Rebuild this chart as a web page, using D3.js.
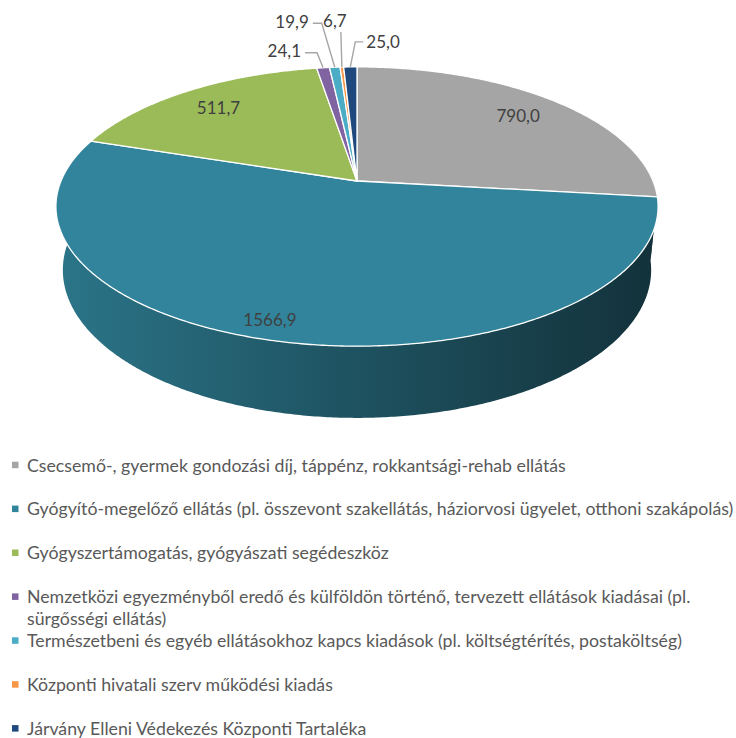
<!DOCTYPE html>
<html lang="hu">
<head>
<meta charset="utf-8">
<script src="https://cdn.jsdelivr.net/npm/d3@7"></script>
<style>
  html, body { margin: 0; padding: 0; background: #ffffff; }
  svg { display: block; font-family: Lato, "Open Sans", "DejaVu Sans", sans-serif; }
</style>
</head>
<body>
<svg id="chart" width="736" height="738"></svg>
<script>
// Kiadási tételek (milliárd Ft)
const categories = [
  "Csecsemő-, gyermek gondozási díj, táppénz, rokkantsági-rehab ellátás",
  "Gyógyító-megelőző ellátás (pl. összevont szakellátás, háziorvosi ügyelet, otthoni szakápolás)",
  "Gyógyszertámogatás, gyógyászati segédeszköz",
  "Nemzetközi egyezményből eredő és külföldön történő, tervezett ellátások kiadásai (pl. sürgősségi ellátás)",
  "Természetbeni és egyéb ellátásokhoz kapcs kiadások (pl. költségtérítés, postaköltség)",
  "Központi hivatali szerv működési kiadás",
  "Járvány Elleni Védekezés Központi Tartaléka"
];
const values = [790.0, 1566.9, 511.7, 24.1, 19.9, 6.7, 25.0];
const colors = ["#a5a5a5", "#31849b", "#9bbb59", "#8064a2", "#4bacc6", "#f79646", "#1f497d"];

// Külső címkék vezetővonalai: könyökpont eltolása a cikk pereméhez képest
const callouts = [
  null, null, null,
  { ex: -6,  ey: -15, hx: -12, side: "end" },
  { ex: -13, ey: -44, hx: -9,  side: "end" },
  { ex: -1,  ey: -35, hx: 0,   side: "top" },
  { ex: 5,   ey: -25, hx: 8,   side: "start" }
];

const fmt = v => d3.format(".1f")(v).replace(".", ",");

const svg = d3.select("#chart");
const defs = svg.append("defs");

// Perspektivikus vetítés: kör alakú tortalap, megdöntött kamerával
const cam = { cx: 357, cy: 181, S: 296, D: 4.87, sinP: 0.456, H: 0.243 };
cam.cosP = Math.sqrt(1 - cam.sinP * cam.sinP);
function project(X, Y, Z) {
  const yc = Y * cam.cosP - Z * cam.sinP;
  const d = cam.D - (Z * cam.cosP + Y * cam.sinP);
  return [cam.cx + cam.S * cam.D * X / d, cam.cy - cam.S * cam.D * yc / d];
}
const polar = (a, k, Y) => project(k * Math.sin(a), Y, -k * Math.cos(a));

const pie = d3.pie().sort(null).value(d => d);
const arcs = pie(values);

function arcPoints(a0, a1, k, Y) {
  const n = Math.max(2, Math.ceil((a1 - a0) / (Math.PI / 360)));
  return d3.range(n + 1).map(i => polar(a0 + (a1 - a0) * i / n, k, Y));
}
const closed = d3.line().curve(d3.curveLinearClosed);

// Oldalfal: csak az elülső félkör látszik
const frontA0 = Math.PI / 2 - 0.15, frontA1 = 3 * Math.PI / 2 + 0.15;
const wallG = svg.append("g");
arcs.forEach((p, i) => {
  const a0 = Math.max(p.startAngle, frontA0), a1 = Math.min(p.endAngle, frontA1);
  if (a1 <= a0) return;
  const gid = "wall" + i;
  const grad = defs.append("linearGradient").attr("id", gid)
    .attr("gradientUnits", "userSpaceOnUse")
    .attr("x1", cam.cx - cam.S).attr("x2", cam.cx + cam.S).attr("y1", 0).attr("y2", 0);
  const shade = t => d3.interpolateRgb(colors[i], "#000000")(t);
  grad.append("stop").attr("offset", 0).attr("stop-color", shade(0.12));
  grad.append("stop").attr("offset", 0.5).attr("stop-color", shade(0.38));
  grad.append("stop").attr("offset", 1).attr("stop-color", shade(0.62));
  const pts = arcPoints(a0, a1, 1, 0).concat(arcPoints(a0, a1, 1, -cam.H).reverse());
  wallG.append("path").attr("d", closed(pts)).attr("fill", `url(#${gid})`);
});

// Tortalap cikkei
const topG = svg.append("g");
arcs.forEach((p, i) => {
  const pts = [project(0, 0, 0)].concat(arcPoints(p.startAngle, p.endAngle, 1, 0));
  topG.append("path").attr("d", closed(pts))
    .attr("fill", colors[i])
    .attr("stroke", "#ffffff").attr("stroke-width", 1.3).attr("stroke-linejoin", "round");
});

// Adatcímkék: a belső címkék az elülső oldalon kijjebb és a fal felé tolódnak
const labelG = svg.append("g").attr("font-size", 17).attr("fill", "#404040");
arcs.forEach((p, i) => {
  const mid = (p.startAngle + p.endAngle) / 2;
  const c = callouts[i];
  if (!c) {
    const front = Math.max(0, -Math.cos(mid));
    const k = 0.8 + 0.1 * front;
    const [x, y] = polar(mid + 0.065 * front, k, 0);
    labelG.append("text").attr("x", x).attr("y", y)
      .attr("text-anchor", "middle").attr("dominant-baseline", "central")
      .text(fmt(values[i]));
    return;
  }
  const [ax, ay] = polar(mid, 1, 0);
  const elbow = [ax + c.ex, ay + c.ey];
  const end = [elbow[0] + c.hx, elbow[1]];
  labelG.append("path")
    .attr("d", d3.line()([[ax, ay], elbow, end]))
    .attr("fill", "none").attr("stroke", "#a6a6a6").attr("stroke-width", 1.4);
  const t = labelG.append("text").text(fmt(values[i])).attr("dominant-baseline", "central");
  if (c.side === "end") t.attr("x", end[0] - 4).attr("y", end[1] - 2).attr("text-anchor", "end");
  else if (c.side === "start") t.attr("x", end[0] + 3).attr("y", end[1]).attr("text-anchor", "start");
  else t.attr("x", end[0] - 6).attr("y", end[1] - 12).attr("text-anchor", "middle");
});

// Jelmagyarázat
const legend = { x: 27, y0: 465, step: 43.9, lineH: 22, width: 707 };
const legendG = svg.append("g").attr("fill", "#595959");
const probe = legendG.append("text").attr("font-size", 16).text(categories[1]);
const fontSize = 16 * legend.width / probe.node().getComputedTextLength();
probe.remove();
legendG.attr("font-size", fontSize);

function wrap(str, maxW) {
  const words = str.split(" ");
  const lines = [];
  let cur = "";
  const m = legendG.append("text");
  words.forEach(w => {
    const trial = cur ? cur + " " + w : w;
    m.text(trial);
    if (m.node().getComputedTextLength() > maxW + 2 && cur) { lines.push(cur); cur = w; }
    else cur = trial;
  });
  m.remove();
  lines.push(cur);
  return lines;
}

categories.forEach((name, i) => {
  const y = legend.y0 + i * legend.step;
  legendG.append("rect").attr("x", 12).attr("y", y - 3.3).attr("width", 6.5).attr("height", 6.5)
    .attr("fill", colors[i]);
  wrap(name, legend.width).forEach((ln, j) => {
    legendG.append("text").attr("x", legend.x).attr("y", y + j * legend.lineH)
      .attr("dominant-baseline", "central").text(ln);
  });
});
</script>
</body>
</html>
